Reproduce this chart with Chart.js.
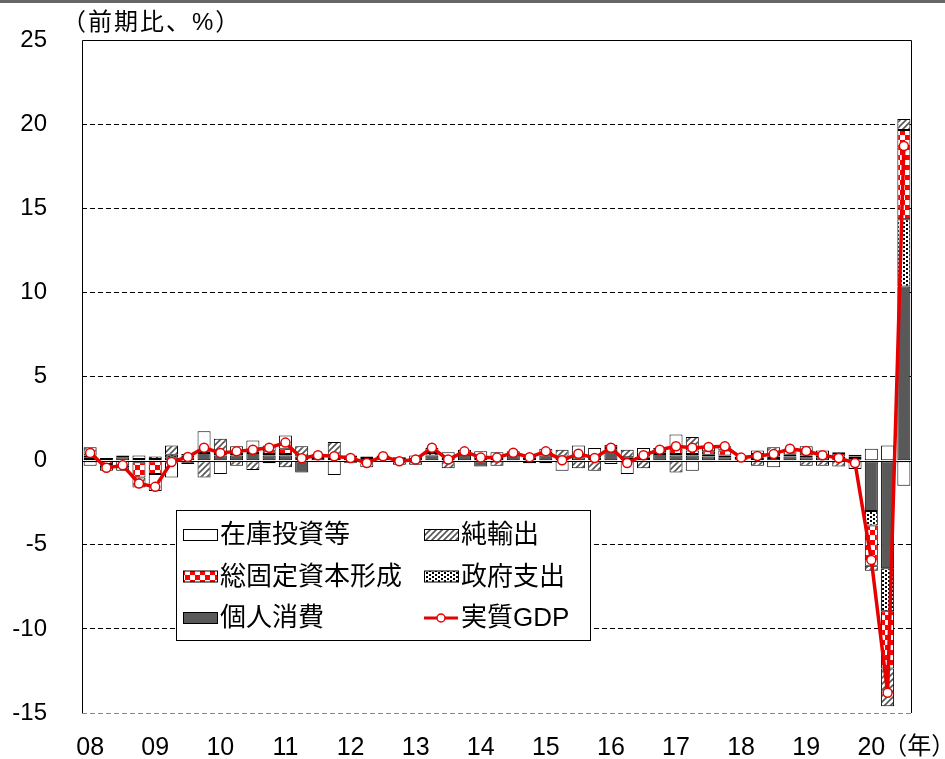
<!DOCTYPE html>
<html>
<head>
<meta charset="utf-8">
<script src="https://cdn.jsdelivr.net/npm/chart.js@4.4.0/dist/chart.umd.min.js"></script>
<style>
  html, body { margin: 0; padding: 0; background: #fff; }
  #wrap { width: 945px; height: 759px; position: relative; }
</style>
</head>
<body>
<div id="wrap"><canvas id="gdpChart"></canvas></div>
<script>
// quarterly, 2008Q1 - 2020Q3
const years = ['08', '09', '10', '11', '12', '13', '14', '15', '16', '17', '18', '19', '20'];
const quarters = [];
years.forEach(y => ['Q1', 'Q2', 'Q3', 'Q4'].forEach(q => quarters.push(y + q)));
quarters.length = 51;

const consumption = [0.1, 0.1, 0.2, -0.1, 0.1, 0.2, 0.2, 0.45, 0.3, 0.3, 0.45, 0.3, 0.3, -0.7, 0.15, 0.1, 0.2,
  0.15, 0.1, 0.1, 0.0, 0.3, 0.1, 0.35, -0.35, 0.1, 0.3, 0.1, 0.3, 0.15, 0.2, 0.1, 0.65, 0.0,
  0.1, 0.4, 0.3, 0.3, 0.25, 0.2, 0.05, 0.1, 0.15, 0.25, 0.2, 0.2, 0.15, 0.05, -3.0, -6.4, 10.35];
const government = [0.1, 0.05, 0.1, 0.1, 0.15, 0.15, 0.1, 0.1, 0.1, 0.1, 0.1, 0.1, 0.1, 0.1, 0.1, 0.1, 0.1,
  0.1, 0.1, 0.1, 0.1, 0.15, 0.1, 0.1, 0.1, 0.1, 0.1, 0.1, 0.1, 0.1, 0.1, 0.1, 0.1, 0.1,
  0.1, 0.1, 0.1, 0.1, 0.1, 0.1, 0.1, 0.1, 0.1, 0.1, 0.1, 0.1, 0.1, 0.1, -0.85, -2.55, 4.0];
const investment = [0.1, -0.2, -0.3, -0.9, -0.8, -0.1, -0.1, 0.0, 0.05, 0.1, 0.1, 0.15, 0.3, 0.15, 0.1, 0.1, -0.05,
  -0.1, 0.0, -0.1, -0.1, 0.0, -0.1, 0.0, 0.0, -0.05, 0.0, 0.0, 0.05, 0.0, 0.05, 0.0, 0.2, 0.1,
  0.05, 0.15, 0.3, 0.2, 0.2, 0.3, 0.1, 0.2, 0.15, 0.2, 0.25, 0.3, 0.2, 0.1, -2.4, -3.4, 5.3];
const netExports = [0.5, -0.1, -0.1, -0.6, 0.0, 0.55, -0.1, -1.0, 0.85, -0.3, -0.55, -0.15, -0.4, 0.6, -0.1, 0.8, -0.05,
  -0.05, 0.1, 0.0, 0.2, 0.1, -0.35, -0.1, 0.0, -0.25, -0.1, 0.15, -0.15, 0.4, -0.45, -0.6, 0.0, 0.45,
  -0.45, 0.1, -0.7, 0.8, -0.1, 0.25, -0.05, -0.3, 0.4, 0.15, -0.3, -0.3, -0.35, 0.1, -0.3, -2.25, 0.65];
const inventory = [-0.3, -0.3, -0.2, 0.2, -1.0, -0.9, 0.1, 1.2, -0.8, 0.35, 0.55, 0.35, 0.8, 0.0, 0.05, -0.85, -0.05,
  -0.25, -0.05, -0.15, -0.15, 0.2, 0.3, 0.2, 0.45, 0.3, 0.15, -0.15, 0.25, -0.6, 0.55, 0.55, -0.2, -0.8,
  0.5, -0.1, 0.85, -0.6, 0.35, 0.0, 0.0, 0.2, -0.4, 0.0, 0.3, 0.0, 0.05, -0.5, 0.7, 0.9, -1.5];
const realGdp = [0.46, -0.43, -0.28, -1.36, -1.56, -0.08, 0.22, 0.77, 0.46, 0.55, 0.65, 0.77, 1.07, 0.14, 0.32, 0.26, 0.16,
  -0.14, 0.26, -0.04, 0.06, 0.77, 0.06, 0.55, 0.18, 0.18, 0.47, 0.2, 0.55, 0.02, 0.41, 0.16, 0.77, -0.14,
  0.32, 0.65, 0.85, 0.77, 0.81, 0.85, 0.18, 0.28, 0.39, 0.71, 0.57, 0.32, 0.16, -0.14, -5.9, -13.8, 18.7];

const FONT = "'Liberation Sans', 'Noto Sans CJK JP', Arial, sans-serif";

function tile(w, h, draw) {
  const c = document.createElement('canvas');
  c.width = w; c.height = h;
  const g = c.getContext('2d');
  g.fillStyle = '#fff';
  g.fillRect(0, 0, w, h);
  draw(g);
  return document.getElementById('gdpChart').getContext('2d').createPattern(c, 'repeat');
}

const checkRed = tile(10, 10, g => {
  g.fillStyle = '#ff0000';
  g.fillRect(0, 0, 5, 5);
  g.fillRect(5, 5, 5, 5);
});
const dots = tile(6, 4, g => {
  g.fillStyle = '#000';
  g.fillRect(0, 0, 2, 2);
  g.fillRect(3, 2, 2, 2);
});
const hatch = tile(6, 6, g => {
  g.strokeStyle = '#555';
  g.lineWidth = 1.6;
  g.beginPath();
  g.moveTo(-3, 3); g.lineTo(3, -3);
  g.moveTo(0, 6); g.lineTo(6, 0);
  g.moveTo(3, 9); g.lineTo(9, 3);
  g.stroke();
});

function bar(label, data, fill) {
  return {
    type: 'bar', label, data, backgroundColor: fill, borderColor: '#000', borderWidth: 1,
    borderSkipped: false, stack: 'parts', order: 1,
    barPercentage: 0.8, categoryPercentage: 1
  };
}

const datasets = [
  {
    type: 'line', label: '実質GDP', data: realGdp, stack: 'gdp', order: 0,
    borderColor: '#e60000', borderWidth: 3.5, tension: 0,
    pointRadius: 4.5, pointBackgroundColor: '#fff', pointBorderColor: '#e60000', pointBorderWidth: 1.5
  },
  bar('個人消費', consumption, '#595959'),
  bar('政府支出', government, dots),
  bar('総固定資本形成', investment, checkRed),
  bar('純輸出', netExports, hatch),
  bar('在庫投資等', inventory, '#fff')
];

// legend layout: [label, col, row]
const legendItems = [
  ['在庫投資等', 0, 0], ['純輸出', 1, 0],
  ['総固定資本形成', 0, 1], ['政府支出', 1, 1],
  ['個人消費', 0, 2], ['実質GDP', 1, 2]
];

const decor = {
  id: 'decor',
  beforeDatasetsDraw(chart) {
    const { ctx, chartArea: a, scales: { y } } = chart;
    const y0 = Math.round(y.getPixelForValue(0)) + 0.5;
    ctx.save();
    ctx.strokeStyle = '#000';
    ctx.lineWidth = 1;
    ctx.beginPath();
    ctx.moveTo(a.left, y0); ctx.lineTo(a.right, y0);
    ctx.stroke();
    ctx.restore();
  },
  afterDatasetsDraw(chart) {
    const { ctx, chartArea: a } = chart;
    ctx.save();
    ctx.strokeStyle = '#000';
    ctx.lineWidth = 1;
    ctx.beginPath();
    ctx.moveTo(a.left + 0.5, a.bottom);
    ctx.lineTo(a.left + 0.5, a.top + 0.5);
    ctx.lineTo(a.right - 0.5, a.top + 0.5);
    ctx.lineTo(a.right - 0.5, a.bottom);
    ctx.stroke();

    // legend
    const bx = 176.5, by = 510.5, bw = 414, bh = 130;
    ctx.fillStyle = '#fff';
    ctx.fillRect(bx, by, bw, bh);
    ctx.strokeRect(bx, by, bw, bh);
    ctx.font = '26px ' + FONT;
    ctx.textBaseline = 'middle';
    ctx.textAlign = 'left';
    legendItems.forEach(([label, col, row]) => {
      const ds = chart.data.datasets.find(d => d.label === label);
      const sx = col === 0 ? 183 : 424;
      const cy = 535 + row * 41.5;
      if (ds.type === 'line') {
        ctx.strokeStyle = ds.borderColor;
        ctx.lineWidth = 3;
        ctx.beginPath();
        ctx.moveTo(sx, cy); ctx.lineTo(sx + 34, cy);
        ctx.stroke();
        ctx.beginPath();
        ctx.arc(sx + 17, cy, 4, 0, Math.PI * 2);
        ctx.fillStyle = '#fff';
        ctx.fill();
        ctx.lineWidth = 1.5;
        ctx.stroke();
      } else {
        ctx.fillStyle = ds.backgroundColor;
        ctx.fillRect(sx + 0.5, cy - 5.5, 34, 11);
        ctx.strokeStyle = '#000';
        ctx.lineWidth = 1;
        ctx.strokeRect(sx + 0.5, cy - 5.5, 34, 11);
      }
      ctx.fillStyle = '#000';
      ctx.fillText(label, sx + 37, cy + 1);
    });
    ctx.restore();
  },
  afterDraw(chart) {
    const { ctx, scales: { x } } = chart;
    ctx.save();
    ctx.fillStyle = '#666';
    ctx.fillRect(0, 0, chart.width, 3);
    ctx.fillStyle = '#000';
    ctx.textBaseline = 'middle';
    ctx.textAlign = 'left';
    ctx.font = '24px ' + FONT;
    ctx.letterSpacing = '2px';
    ctx.fillText('（前期比、%）', 62, 23);
    ctx.letterSpacing = '0px';
    ctx.fillText('（年）', x.getPixelForValue(48) + 12, 747);
    ctx.restore();
  }
};

new Chart(document.getElementById('gdpChart'), {
  data: { labels: quarters, datasets },
  options: {
    responsive: true,
    maintainAspectRatio: false,
    animation: false,
    layout: { padding: { top: 40, right: 33, left: 0, bottom: 0 } },
    plugins: { legend: { display: false }, tooltip: { enabled: false } },
    scales: {
      x: {
        stacked: true,
        afterFit: s => { s.height = 46; s.paddingLeft = 0; s.paddingRight = 0; },
        grid: { display: false },
        border: { display: false },
        ticks: {
          autoSkip: false, maxRotation: 0, minRotation: 0, padding: 12,
          color: '#000', font: { family: FONT, size: 25 },
          callback: (v, i) => (i % 4 === 0 ? years[i / 4] : '')
        }
      },
      y: {
        stacked: true,
        min: -15, max: 25,
        afterFit: s => { s.width = 82; s.paddingTop = 0; s.paddingBottom = 0; },
        border: { display: false, dash: [5, 3] },
        grid: {
          drawTicks: false,
          color: c => (c.tick.value === 0 || c.tick.value === 25 ? 'rgba(0,0,0,0)' : (c.tick.value === -15 ? '#888' : '#000'))
        },
        ticks: { stepSize: 5, padding: 35, color: '#000', font: { family: FONT, size: 24 } }
      }
    }
  },
  plugins: [decor]
});
</script>
</body>
</html>
